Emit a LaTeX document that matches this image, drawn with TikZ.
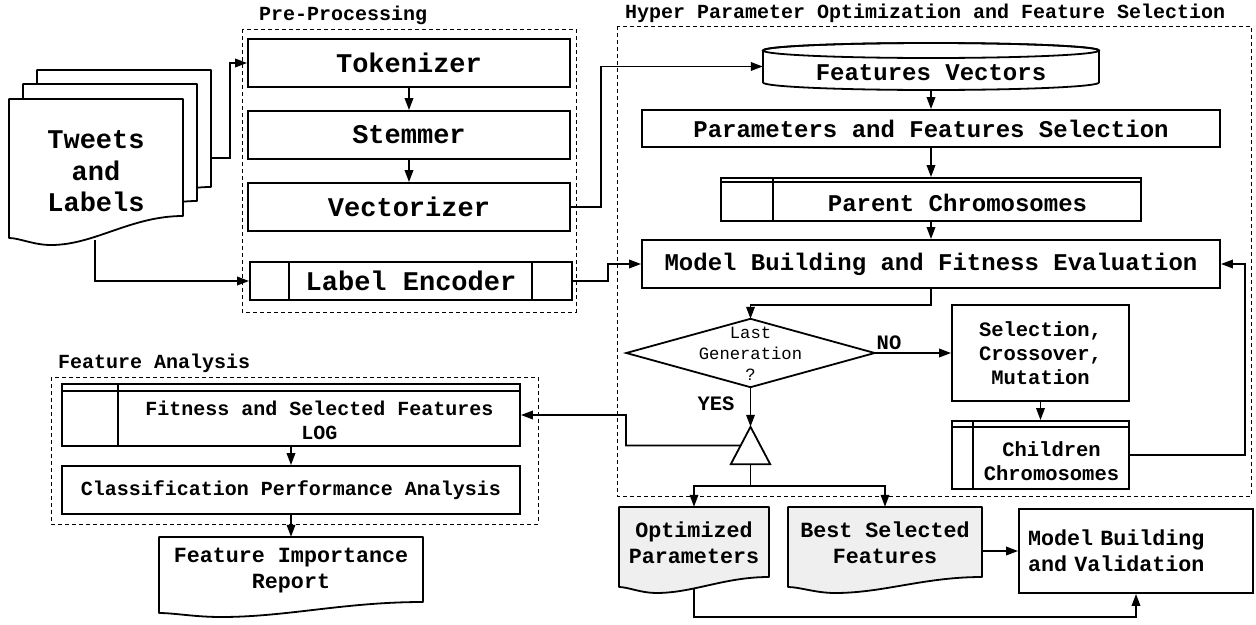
\documentclass[tikz,border=0pt]{standalone}
\usepackage{fontspec}
\setmainfont{Liberation Mono}
\usetikzlibrary{arrows.meta,calc}
\newcommand\fsA{\fontsize{27}{31.5}\selectfont\bfseries}
\newcommand\fsB{\fontsize{24}{28}\selectfont\bfseries}
\newcommand\fsC{\fontsize{17.2}{21}\selectfont}
\newcommand\fsD{\fontsize{20.5}{24}\selectfont\bfseries}
\newcommand\fsE{\fontsize{21.7}{26}\selectfont\bfseries}
\newcommand\fsF{\fontsize{20}{24}\selectfont\bfseries}
\definecolor{docgray}{HTML}{EFEFEF}
\newcommand\docshape[8][]{%
  \draw[docline,#1] (#2,#3) -- (#4,#3) -- (#4,#5)
    .. controls ({#4-0.3*(#4-#2)},#5) and ({#8+0.25*(#4-#2)},#7) .. (#8,#7)
    .. controls ({#8-0.1*(#4-#2)},#7) and ({#2+0.06*(#4-#2)},#6) .. (#2,#6) -- cycle;}
\begin{document}
\begin{tikzpicture}[x=1pt,y=-1pt,
  bx/.style={draw=black, line width=1.8pt, inner sep=0pt, align=center, fill=white},
  txt/.style={inner sep=0pt, align=center},
  hdr/.style={inner sep=0pt, anchor=west, font=\fsF},
  grp/.style={draw=black, line width=1pt, dash pattern=on 4pt off 3pt},
  conn/.style={line width=1.8pt, -{Triangle[length=12pt,width=8.5pt]}},
  plain/.style={line width=1.8pt},
  docline/.style={line width=1.8pt, fill=white, line join=round},
  ]
\useasboundingbox (0,0) rectangle (1256,624);
\fill[white] (0,0) rectangle (1256,624);

% groups
\draw[grp] (242,29) rectangle (576,312);
\draw[grp] (617,26) rectangle (1251,496);
\draw[grp] (51,377) rectangle (538,524);
\node[hdr] (pphdr) at (259,15) {Pre-Processing};
\node[hdr] (hyhdr) at (625,13) {Hyper Parameter Optimization and Feature Selection};
\node[hdr] (fahdr) at (58,363) {Feature Analysis};

% tweets stack
\begin{scope}[shift={(28,-29)}]
\docshape{9}{99}{183}{216}{238}{245}{51}
\end{scope}
\begin{scope}[shift={(14,-15)}]
\docshape{9}{99}{183}{216}{238}{245}{51}
\end{scope}
\docshape{9}{99}{183}{216}{238}{245}{51}
\node[txt, font=\fsA, minimum width=174, minimum height=145] (tweets) at (96,171.5) {Tweets\\and\\Labels};
\coordinate (tw3r) at (211,158);
\coordinate (twb) at (95,240);

% pre-processing
\node[bx, minimum width=322, minimum height=48, font=\fsA] (tok) at (409,63) {Tokenizer};
\node[bx, minimum width=322, minimum height=48, font=\fsA] (stem) at (409,135) {Stemmer};
\node[bx, minimum width=322, minimum height=48, font=\fsA] (vec) at (409,207) {Vectorizer};
\node[bx, minimum width=322, minimum height=38, font=\fsA] (lenc) at (411,281) {Label Encoder};
\draw[plain] ([xshift=40pt]lenc.north west) -- ([xshift=40pt]lenc.south west);
\draw[plain] ([xshift=-41pt]lenc.north east) -- ([xshift=-41pt]lenc.south east);

% features vectors cylinder
\draw[docline] (763,50.5) -- (763,82.5) arc[start angle=180, end angle=0, x radius=168, y radius=7.5] -- (1099,50.5) arc[start angle=0, end angle=-180, x radius=168, y radius=7.5] -- cycle;
\draw[plain] (931,50.5) ellipse [x radius=168, y radius=7.5];
\node[minimum width=336, minimum height=47, inner sep=0pt] (fv) at (931,66.5) {};
\node[txt, font=\fsB] (fvt) at (931,73) {Features Vectors};

\node[bx, minimum width=578, minimum height=37, font=\fsB] (pfs) at (931,128.5) {Parameters and Features Selection};
\node[bx, minimum width=420, minimum height=43] (pc) at (931,199.5) {};
\draw[plain] ([xshift=53pt]pc.north west) -- ([xshift=53pt]pc.south west);
\draw[plain] ([yshift=-5pt]pc.north west) -- ([yshift=-5pt]pc.north east);
\node[txt, font=\fsB] (pct) at (957.5,203) {Parent Chromosomes};
\node[bx, minimum width=578, minimum height=48, font=\fsB] (mbfe) at (931,264) {Model Building and Fitness Evaluation};

% decision
\node[minimum width=248, minimum height=68, inner sep=0pt] (dec) at (750.5,353) {};
\draw[plain, fill=white] (dec.north) -- (dec.east) -- (dec.south) -- (dec.west) -- cycle;
\node[txt, font=\fsC] (dect) at (750.5,354) {Last\\Generation\\?};
\node[txt, font=\fsD] (no) at (889,343) {NO};
\node[txt, font=\fsD] (yes) at (716,404) {YES};

\node[bx, minimum width=177, minimum height=96, font=\fsD] (sel) at (1040.5,353) {Selection,\\Crossover,\\Mutation};
\node[bx, minimum width=177, minimum height=68] (ch) at (1040.5,455) {};
\draw[plain] ([xshift=22pt]ch.north west) -- ([xshift=22pt]ch.south west);
\draw[plain] ([yshift=-7pt]ch.north west) -- ([yshift=-7pt]ch.north east);
\node[txt, font=\fsD] (cht) at (1051.5,461) {Children\\Chromosomes};

% merge triangle
\node[minimum width=39, minimum height=37, inner sep=0pt] (tri) at (750.5,445.5) {};
\draw[plain, fill=white, line join=miter] (tri.north) -- (tri.south east) -- (tri.south west) -- cycle;

% outputs
\docshape[fill=docgray]{619}{507}{769}{577}{587}{593}{656}
\node[txt, font=\fsE, minimum width=150, minimum height=72] (op) at (694,543) {Optimized\\Parameters};
\docshape[fill=docgray]{788}{507}{982}{577}{587}{593}{835}
\node[txt, font=\fsE, minimum width=194, minimum height=72] (bsf) at (885,543) {Best Selected\\Features};
\node[bx, minimum width=234, minimum height=84, text width=216, align=left, font=\fsE] (mbv) at (1136,551) {Model Building\\and Validation};

% feature analysis
\node[bx, minimum width=458, minimum height=62] (fit) at (291,415) {};
\draw[plain] ([xshift=57pt]fit.north west) -- ([xshift=57pt]fit.south west);
\draw[plain] ([yshift=-8pt]fit.north west) -- ([yshift=-8pt]fit.north east);
\node[txt, font=\fsF] (fitt) at (319.5,420) {Fitness and Selected Features\\LOG};
\node[bx, minimum width=458, minimum height=48, font=\fsF] (cpa) at (291,490) {Classification Performance Analysis};
\docshape{159}{537}{423}{602}{613}{617}{221}
\node[txt, font=\fsE, minimum width=264, minimum height=68] (fir) at (291,571) {Feature Importance\\Report};

% connectors
\draw[conn] (tw3r) -- ++(19,0) |- (tok.west);
\draw[conn] (twb) |- (lenc.west);
\draw[conn] (tok.south) -- (stem.north);
\draw[conn] (stem.south) -- (vec.north);
\draw[conn] (vec.east) -- ++(30,0) |- (fv.west);
\draw[conn] (lenc.east) -- ++(35,0) |- (mbfe.west);
\draw[conn] (fv.south) -- (pfs.north);
\draw[conn] (pfs.south) -- (pc.north);
\draw[conn] (pc.south) -- (mbfe.north);
\draw[conn] (mbfe.south) -- ++(0,16) -| (dec.north);
\draw[conn] (dec.east) -- (sel.west);
\draw[conn] (sel.south) -- (ch.north);
\draw[conn] (ch.east) -- ++(115,0) |- (mbfe.east);
\draw[conn] (dec.south) -- (tri.north);
\coordinate (tl) at ($(tri.north)!0.5!(tri.south west)$);
\coordinate (bendA) at (626,445.5);
\draw[conn] (tl) -- (bendA) |- (fit.east);
\draw[plain] (tri.south) -- ++(0,22) coordinate (split);
\draw[conn] (split) -| (op.north);
\draw[conn] (split) -| (bsf.north);
\draw[conn] (bsf.east |- mbv.west) -- (mbv.west);
\coordinate (opb) at (694,589);
\draw[conn] (opb) -- ++(0,28) -| (mbv.south);
\draw[conn] (fit.south) -- (cpa.north);
\draw[conn] (cpa.south) -- (fir.north);
\end{tikzpicture}
\end{document}
